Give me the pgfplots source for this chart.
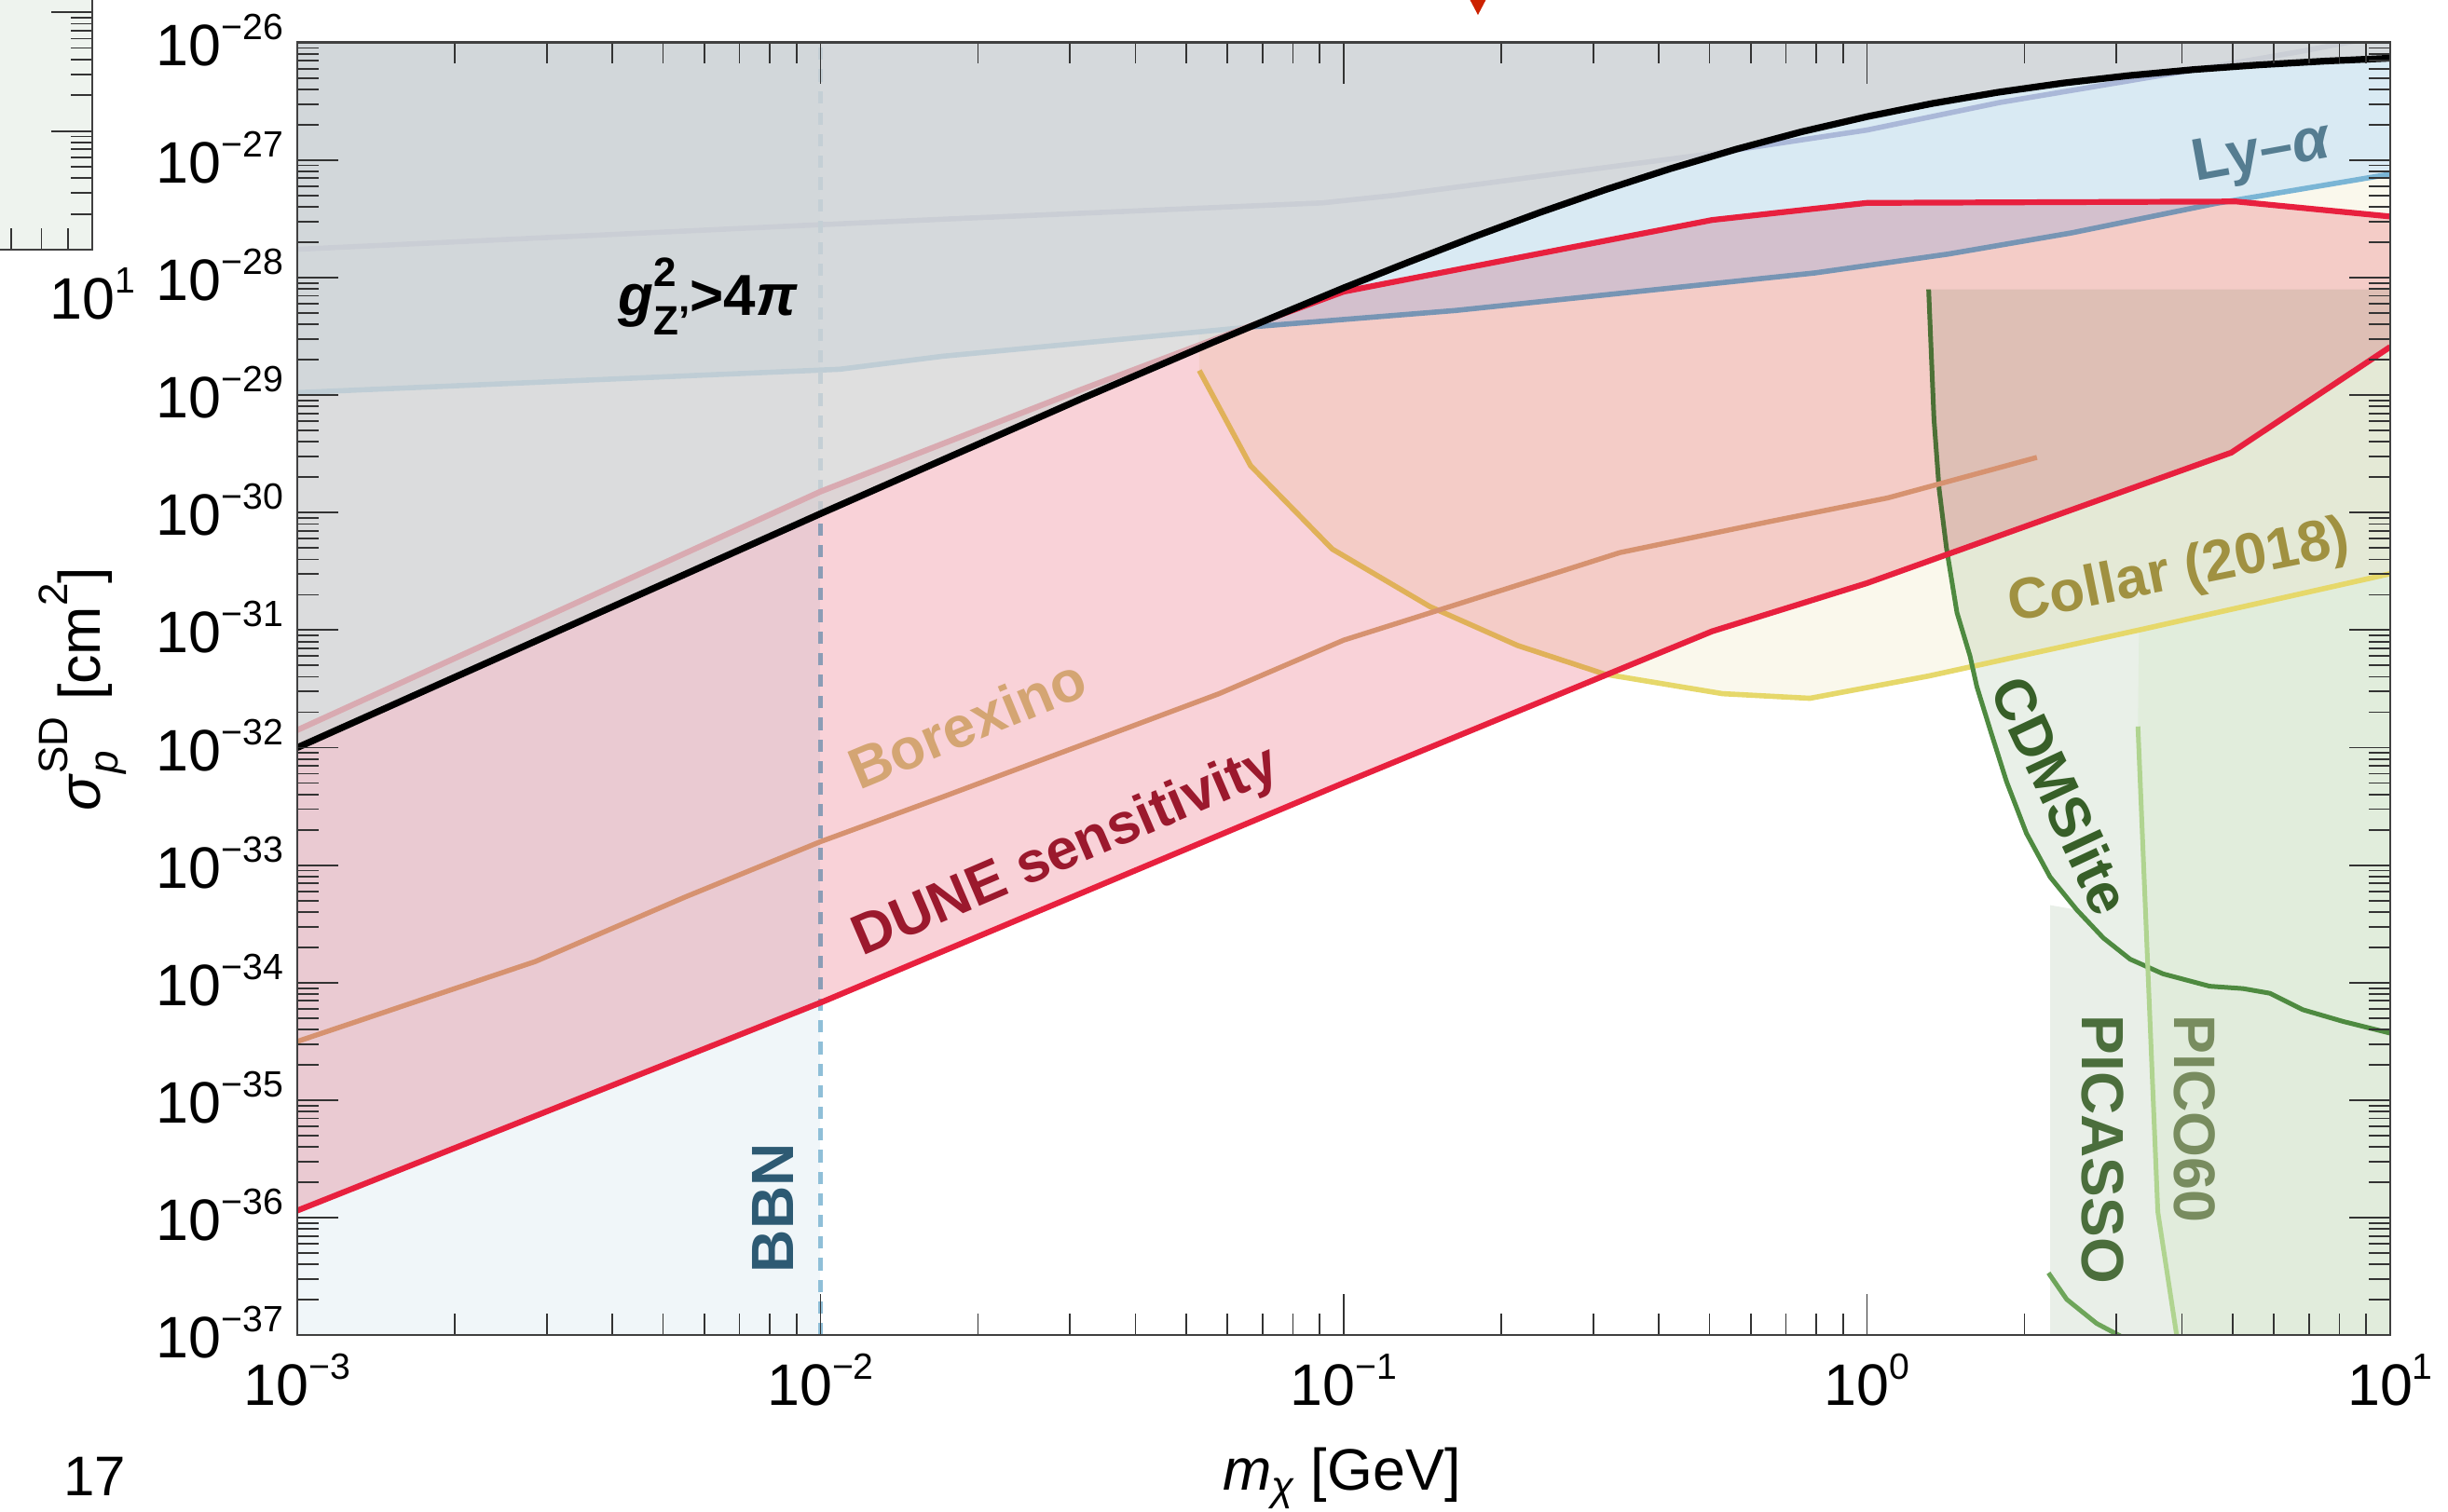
\documentclass[border=0pt]{standalone}
\usepackage{fontspec}
\setmainfont{Liberation Sans}
\usepackage{pgfplots}
\pgfplotsset{compat=1.18}

\definecolor{panelbg}{RGB}{238,243,238}
\definecolor{bbnfill}{RGB}{240,246,249}
\definecolor{cream}{RGB}{250,248,236}
\definecolor{lyafill}{RGB}{217,234,243}
\definecolor{cdmsfill}{RGB}{233,240,232}
\definecolor{picassofill}{RGB}{233,239,232}
\definecolor{picofill}{RGB}{247,252,242}
\definecolor{dunefill}{RGB}{249,210,216}
\definecolor{grayfill}{RGB}{213,213,213}
\definecolor{collarline}{RGB}{230,216,106}
\definecolor{cdmsline}{RGB}{78,138,64}
\definecolor{lyaline}{RGB}{122,181,213}
\definecolor{lyaupper}{RGB}{170,184,216}
\definecolor{bbnline}{RGB}{143,191,216}
\definecolor{dunered}{RGB}{232,32,62}
\definecolor{borexline}{RGB}{214,146,112}
\definecolor{picoline}{RGB}{176,212,144}
\definecolor{picassoline}{RGB}{110,165,90}
\definecolor{lyatext}{RGB}{85,125,145}
\definecolor{borextext}{RGB}{212,165,115}
\definecolor{dunetext}{RGB}{155,25,45}
\definecolor{collartext}{RGB}{160,145,65}
\definecolor{cdmstext}{RGB}{55,95,40}
\definecolor{picassotext}{RGB}{75,110,60}
\definecolor{picotext}{RGB}{120,140,95}
\definecolor{bbntext}{RGB}{45,90,115}
\definecolor{arrowred}{RGB}{204,34,0}

\newcommand{\fs}[1]{\fontsize{#1}{#1}\selectfont}
\newcommand{\pw}[1]{10\raisebox{7pt}{\fs{9.8pt}#1}}

\pgfplotsset{
  mylog/.style={
    scale only axis,
    tick align=inside,
    major tick length=11pt, minor tick length=5.7pt,
    every tick/.style={black!80, line width=0.45pt},
    axis line style={black!75, line width=0.6pt},
    xticklabel style={font=\fs{15.7pt}, anchor=base, yshift=-18.7pt, inner sep=0pt},
    yticklabel style={font=\fs{15.7pt}, anchor=base east, xshift=-3.5pt, yshift=-6.15pt, inner sep=0pt},
    minor xtick={2e-3,3e-3,4e-3,5e-3,6e-3,7e-3,8e-3,9e-3,2e-2,3e-2,4e-2,5e-2,6e-2,7e-2,8e-2,9e-2,0.2,0.3,0.4,0.5,0.6,0.7,0.8,0.9,2,3,4,5,6,7,8,9},
  }
}

\begin{document}
\begin{tikzpicture}[x=1pt,y=1pt]
\path[use as bounding box] (0,0) rectangle (656.75,405.5);

% neighbouring panel (cropped)
\begin{loglogaxis}[mylog, at={(24.75pt,338.5pt)}, anchor=south east,
  width=561.5pt, height=127.4pt,
  xmin=1e-3, xmax=10, ymin=1, ymax=1e4,
  axis background/.style={fill=panelbg},
  xtick={1e-3,1e-2,1e-1,1,10}, xticklabels={,,,,\pw{1}},
  ytick={1,10,100,1000,10000}, yticklabels={},
  minor ytick={2,3,4,5,6,7,8,9,20,30,40,50,60,70,80,90,200,300,400,500,600,700,800,900,2000,3000,4000,5000,6000,7000,8000,9000},
]
\end{loglogaxis}

\begin{loglogaxis}[mylog, at={(79.75pt,47.2pt)}, anchor=south west,
  width=561.5pt, height=346.9pt,
  xmin=1e-3, xmax=10, ymin=1e-37, ymax=1e-26,
  axis on top,
  xtick={1e-3,1e-2,1e-1,1,10},
  xticklabels={\pw{−3},\pw{−2},\pw{−1},\pw{0},\pw{1}},
  ytick={1e-37,1e-36,1e-35,1e-34,1e-33,1e-32,1e-31,1e-30,1e-29,1e-28,1e-27,1e-26},
  yticklabels={\pw{−37},\pw{−36},\pw{−35},\pw{−34},\pw{−33},\pw{−32},\pw{−31},\pw{−30},\pw{−29},\pw{−28},\pw{−27},\pw{−26}},
  minor ytick={2e-37,3e-37,4e-37,5e-37,6e-37,7e-37,8e-37,9e-37,
    2e-36,3e-36,4e-36,5e-36,6e-36,7e-36,8e-36,9e-36,
    2e-35,3e-35,4e-35,5e-35,6e-35,7e-35,8e-35,9e-35,
    2e-34,3e-34,4e-34,5e-34,6e-34,7e-34,8e-34,9e-34,
    2e-33,3e-33,4e-33,5e-33,6e-33,7e-33,8e-33,9e-33,
    2e-32,3e-32,4e-32,5e-32,6e-32,7e-32,8e-32,9e-32,
    2e-31,3e-31,4e-31,5e-31,6e-31,7e-31,8e-31,9e-31,
    2e-30,3e-30,4e-30,5e-30,6e-30,7e-30,8e-30,9e-30,
    2e-29,3e-29,4e-29,5e-29,6e-29,7e-29,8e-29,9e-29,
    2e-28,3e-28,4e-28,5e-28,6e-28,7e-28,8e-28,9e-28,
    2e-27,3e-27,4e-27,5e-27,6e-27,7e-27,8e-27,9e-27},
]
% ---- filled regions (multiplied) ----
% BBN
\addplot[draw=none, fill=bbnfill, blend mode=multiply] coordinates {(1e-3,1e-37) (1e-2,1e-37) (1e-2,1e-26) (1e-3,1e-26)} -- cycle;
% Ly-alpha
\addplot[draw=none, fill=lyafill, blend mode=multiply] coordinates {(1e-3,1.05e-29) (1.089e-2,1.66e-29) (1.71e-2,2.14e-29) (6.64e-2,3.80e-29) (0.1637,5.25e-29) (0.4634,8.51e-29) (0.7962,1.096e-28) (1.429,1.585e-28) (2.460,2.40e-28) (4.634,4.27e-28) (10,7.59e-28) (10,1e-26) (1e-3,1e-26)} -- cycle;
% Collar (2018)
\addplot[draw=none, fill=cream, blend mode=multiply] coordinates {(5.297e-2,1.62e-29) (6.637e-2,2.51e-30) (9.506e-2,4.90e-31) (0.1462,1.585e-31) (0.2148,7.41e-32) (0.3155,4.22e-32) (0.5297,2.88e-32) (0.778,2.63e-32) (1.312,4.07e-32) (3.381,1.023e-31) (10,3.02e-31) (10,7.59e-28) (4.634,4.27e-28) (2.460,2.40e-28) (1.429,1.585e-28) (0.7962,1.096e-28) (0.4634,8.51e-29) (0.1637,5.25e-29) (6.64e-2,3.80e-29) (5.297e-2,3.47e-29)} -- cycle;
% CDMSlite
\addplot[draw=none, fill=cdmsfill, blend mode=multiply] coordinates {(1.312,7.94e-29) (1.343,6.31e-30) (1.374,1.585e-30) (1.419,5.01e-31) (1.486,1.413e-31) (1.574,6.03e-32) (1.622,3.31e-32) (1.718,1.445e-32) (1.849,5.13e-33) (2.018,1.862e-33) (2.239,7.94e-34) (2.518,4.17e-34) (2.831,2.40e-34) (3.184,1.585e-34) (3.681,1.189e-34) (4.519,9.33e-35) (5.236,8.91e-35) (5.888,8.13e-35) (6.808,5.89e-35) (8.128,4.68e-35) (10,3.72e-35) (10,7.94e-29)} -- cycle;
% PICASSO
\addplot[draw=none, fill=picassofill, blend mode=multiply] coordinates {(2.24,1e-37) (2.24,4.57e-34) (2.518,4.17e-34) (2.831,2.40e-34) (3.184,1.585e-34) (3.681,1.189e-34) (4.519,9.33e-35) (5.236,8.91e-35) (5.888,8.13e-35) (6.808,5.89e-35) (8.128,4.68e-35) (10,3.72e-35) (10,1e-37)} -- cycle;
% PICO60
\addplot[draw=none, fill=picofill, blend mode=multiply] coordinates {(3.311,1.023e-31) (3.296,1.514e-32) (3.597,1.122e-36) (3.908,1e-37) (10,1e-37) (10,3.02e-31)} -- cycle;

% ---- lines below the DUNE band ----
\addplot[collarline, line width=1.4pt] coordinates {(5.297e-2,1.62e-29) (6.637e-2,2.51e-30) (9.506e-2,4.90e-31) (0.1462,1.585e-31) (0.2148,7.41e-32) (0.3155,4.22e-32) (0.5297,2.88e-32) (0.778,2.63e-32) (1.312,4.07e-32) (3.381,1.023e-31) (10,3.02e-31)};
\addplot[cdmsline, line width=1.25pt] coordinates {(1.312,7.94e-29) (1.343,6.31e-30) (1.374,1.585e-30) (1.419,5.01e-31) (1.486,1.413e-31) (1.574,6.03e-32) (1.622,3.31e-32) (1.718,1.445e-32) (1.849,5.13e-33) (2.018,1.862e-33) (2.239,7.94e-34) (2.518,4.17e-34) (2.831,2.40e-34) (3.184,1.585e-34) (3.681,1.189e-34) (4.519,9.33e-35) (5.236,8.91e-35) (5.888,8.13e-35) (6.808,5.89e-35) (8.128,4.68e-35) (10,3.72e-35)};
\addplot[lyaline, line width=1.4pt] coordinates {(1e-3,1.05e-29) (1.089e-2,1.66e-29) (1.71e-2,2.14e-29) (6.64e-2,3.80e-29) (0.1637,5.25e-29) (0.4634,8.51e-29) (0.7962,1.096e-28) (1.429,1.585e-28) (2.460,2.40e-28) (4.634,4.27e-28) (10,7.59e-28)};
\addplot[lyaupper, line width=1.4pt] coordinates {(1e-3,1.74e-28) (1e-2,2.82e-28) (1.778e-2,3.16e-28) (9.10e-2,4.32e-28) (0.125,5.01e-28) (0.2576,7.67e-28) (0.4842,1.107e-27) (1,1.80e-27) (1.795,3.09e-27) (3.540,5.13e-27) (6.668,8.32e-27) (10,1.175e-26)};
\addplot[bbnline, line width=1.2pt, dash pattern=on 3.3pt off 2.5pt] coordinates {(1e-2,1e-37) (1e-2,1e-26)};

% ---- DUNE band ----
\addplot[draw=none, fill=dunefill, blend mode=multiply] coordinates {(1e-3,1.15e-36) (1e-2,6.76e-35) (0.1,5.01e-33) (0.5058,9.77e-32) (1,2.51e-31) (4.97,3.24e-30) (10,2.57e-29) (10,3.31e-28) (5.08,4.44e-28) (1,4.32e-28) (0.5058,3.09e-28) (0.1,7.59e-29) (6.46e-2,3.72e-29) (3.162e-2,1.12e-29) (1e-2,1.51e-30) (3.162e-3,1.46e-31) (1e-3,1.41e-32)} -- cycle;
\addplot[dunered, line width=1.55pt] coordinates {(1e-3,1.15e-36) (1e-2,6.76e-35) (0.1,5.01e-33) (0.5058,9.77e-32) (1,2.51e-31) (4.97,3.24e-30) (10,2.57e-29)};
\addplot[dunered, line width=1.55pt] coordinates {(1e-3,1.41e-32) (3.162e-3,1.46e-31) (1e-2,1.51e-30) (3.162e-2,1.12e-29) (6.46e-2,3.72e-29) (0.1,7.59e-29) (0.5058,3.09e-28) (1,4.32e-28) (5.08,4.44e-28) (10,3.31e-28)};

% ---- lines above ----
\addplot[borexline, line width=1.35pt] coordinates {(1e-3,3.16e-35) (2.851e-3,1.514e-34) (5.52e-3,5.37e-34) (1e-2,1.585e-33) (1.71e-2,3.80e-33) (5.78e-2,2.88e-32) (0.1,8.22e-32) (0.2056,2.265e-31) (0.3373,4.57e-31) (0.6457,8.32e-31) (1.096,1.334e-30) (2.113,2.95e-30)};
\addplot[picoline, line width=1.25pt] coordinates {(3.296,1.514e-32) (3.597,1.122e-36) (3.908,1e-37)};
\addplot[picassoline, line width=1.25pt] coordinates {(2.223,3.39e-37) (2.409,2.02e-37) (2.748,1.26e-37) (3.09,9.55e-38)};

% ---- perturbativity region ----
\addplot[draw=none, fill=grayfill, fill opacity=0.763] coordinates {(1e-3,1.0e-32) (1e-2,9.79e-31) (3.162e-2,9.36e-30) (5.623e-2,2.81e-29) (0.1,8.17e-29) (0.1334,1.36e-28) (0.1778,2.23e-28) (0.2371,3.58e-28) (0.3162,5.59e-28) (0.4217,8.46e-28) (0.5623,1.236e-27) (0.7499,1.74e-27) (1,2.34e-27) (1.3335,3.03e-27) (1.778,3.77e-27) (2.371,4.52e-27) (3.162,5.23e-27) (4.217,5.89e-27) (5.623,6.46e-27) (7.499,6.95e-27) (10,7.36e-27) (10,1e-26) (1e-3,1e-26)} -- cycle;
\addplot[black, line width=1.8pt] coordinates {(1e-3,1.0e-32) (1e-2,9.79e-31) (3.162e-2,9.36e-30) (5.623e-2,2.81e-29) (0.1,8.17e-29) (0.1334,1.36e-28) (0.1778,2.23e-28) (0.2371,3.58e-28) (0.3162,5.59e-28) (0.4217,8.46e-28) (0.5623,1.236e-27) (0.7499,1.74e-27) (1,2.34e-27) (1.3335,3.03e-27) (1.778,3.77e-27) (2.371,4.52e-27) (3.162,5.23e-27) (4.217,5.89e-27) (5.623,6.46e-27) (7.499,6.95e-27) (10,7.36e-27)};

% ---- labels ----
\node[font=\fs{15.5pt}\bfseries, anchor=center] at (axis cs:6.1e-3,6.9e-29) {\textit{g}\rlap{\raisebox{0.5em}{\fs{11pt}2}}\raisebox{-0.35em}{\fs{11pt}Z'}>4\textit{π}};
\node[font=\fs{16pt}\bfseries, text=lyatext, rotate=10.3, anchor=center] at (axis cs:5.7,1.11e-27) {Ly–\textit{α}};
\node[font=\fs{15.5pt}\bfseries, text=borextext, rotate=22.6, anchor=base] at (axis cs:1.972e-2,1.114e-32) {Borexino};
\node[font=\fs{15.3pt}\bfseries, text=dunetext, rotate=23.2, anchor=base] at (axis cs:3.027e-2,9.68e-34) {DUNE sensitivity};
\node[font=\fs{15.5pt}\bfseries, text=collartext, rotate=11.4, anchor=base] at (axis cs:4.006,2.286e-31) {Collar (2018)};
\node[font=\fs{15.5pt}\bfseries, text=cdmstext, rotate=-65, anchor=center] at (axis cs:2.35,3.93e-33) {CDMSlite};
\node[font=\fs{16pt}\bfseries, text=picassotext, rotate=-90, anchor=center] at (axis cs:2.828,3.80e-36) {PICASSO};
\node[font=\fs{15.7pt}\bfseries, text=picotext, rotate=-90, anchor=center] at (axis cs:4.227,6.95e-36) {PICO60};
\node[font=\fs{16pt}\bfseries, text=bbntext, rotate=90, anchor=center] at (axis cs:8.11e-3,1.21e-36) {BBN};
\end{loglogaxis}

% axis labels
\node[anchor=base, font=\fs{15.7pt}] at (360,5.6) {\textit{m}\raisebox{-0.18em}{\fs{11pt}\textit{χ}} [GeV]};
\node[rotate=90, anchor=base, font=\fs{15.7pt}] at (26.8,220.6) {\textit{σ}\rlap{\raisebox{-0.3em}{\fs{11pt}\textit{p}}}\raisebox{0.55em}{\fs{11pt}SD} [cm\raisebox{0.55em}{\fs{11pt}2}]};

% page furniture
\node[anchor=base, font=\fs{15pt}] at (25.5,4.25) {17};
\fill[arrowred] (393.6,407) -- (399.4,407) -- (396.5,401.5) -- cycle;
\end{tikzpicture}
\end{document}
